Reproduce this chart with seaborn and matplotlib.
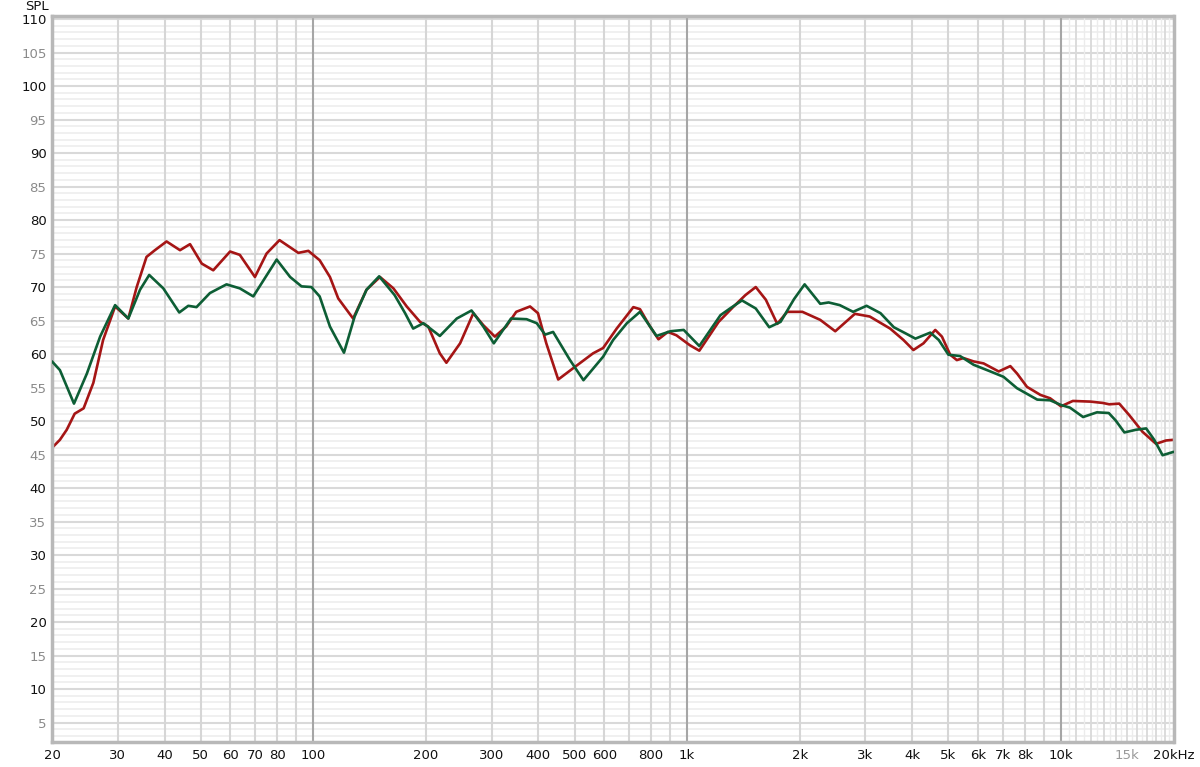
import matplotlib
matplotlib.use("Agg")
import matplotlib.pyplot as plt
from matplotlib.ticker import NullLocator
import seaborn as sns
import pandas as pd

## donnees (Hz, dB SPL)

freq_rouge = [20, 21, 21.9, 23.0, 24.3, 25.8, 27.4, 29.5, 32.0, 33.7, 35.8, 37.7, 40.5, 44.0, 46.8,
              50.3, 54.0, 59.9, 63.6, 69.8, 75, 81.2, 91.2, 97, 104, 110.8, 116.6, 127.8, 138.8,
              150.8, 163.8, 177.8, 193, 203, 218, 227, 247, 268, 285, 306, 328, 349, 380, 399, 420,
              452, 496, 560, 596, 648, 718, 748, 796, 838, 888, 936, 1018, 1078, 1214, 1332, 1432,
              1526, 1624, 1742, 1852, 2034, 2270, 2490, 2810, 3080, 3492, 3790, 4030, 4288, 4610,
              4804, 5054, 5266, 5488, 5838, 6210, 6814, 7320, 7628, 8112, 8812, 9352, 10000, 10760,
              12000, 12940, 13460, 14320, 15220, 16520, 17960, 19100, 20000]
spl_rouge = [46.0, 47.2, 48.7, 51.1, 51.9, 55.7, 62.1, 67.1, 65.3, 70.0, 74.5, 75.5, 76.8, 75.5, 76.4,
             73.5, 72.5, 75.3, 74.8, 71.5, 75.0, 77.0, 75.1, 75.4, 74.0, 71.5, 68.3, 65.3, 69.6,
             71.5, 69.8, 67.1, 64.8, 64.1, 60.1, 58.7, 61.6, 66.1, 64.3, 62.6, 64.1, 66.3, 67.1, 66.1, 61.6,
             56.2, 57.9, 60.1, 60.9, 63.8, 67.0, 66.7, 64.1, 62.2, 63.3, 62.8, 61.3, 60.5, 64.8, 67.1, 68.8,
             70.0, 68.1, 64.5, 66.3, 66.3, 65.1, 63.4, 66.0, 65.6, 63.8, 62.1, 60.6, 61.6, 63.6,
             62.6, 59.9, 59.1, 59.4, 58.9, 58.6, 57.4, 58.2, 57.1, 55.1, 53.9, 53.4, 52.2, 53.0,
             52.9, 52.7, 52.5, 52.6, 50.9, 48.4, 46.6, 47.1, 47.2]

freq_vert = [20, 21, 22.9, 24.8, 26.9, 29.5, 32, 34.4, 36.4, 39.7, 43.8, 46.3, 48.7, 52.9, 58.6, 63.6,
             69.1, 79.8, 86.7, 93, 98.8, 104, 110.8, 120.8, 129, 138.8, 150, 165, 176, 185, 197, 218,
             242, 265, 285, 304, 338, 372, 396, 417, 438, 486, 528, 596, 634, 690, 748, 828, 902, 979,
             1078, 1228, 1302, 1402, 1526, 1658, 1778, 1932, 2062, 2270, 2390, 2560, 2780, 3020, 3290,
             3572, 3836, 4080, 4472, 4710, 5000, 5372, 5838, 6476, 7020, 7628, 8640, 9352, 10000,
             10570, 11460, 12480, 13420, 14000, 14780, 15880, 16900, 17760, 18700, 20000]
spl_vert = [58.9, 57.6, 52.6, 57.1, 62.6, 67.3, 65.3, 69.6, 71.8, 69.8, 66.2, 67.2, 67.0, 69.1, 70.4, 69.8,
            68.6, 74.1, 71.5, 70.1, 70.0, 68.6, 64.1, 60.2, 65.6, 69.6, 71.6, 68.8, 66.1, 63.8, 64.6, 62.7,
            65.3, 66.5, 64.1, 61.6, 65.3, 65.2, 64.6, 62.9, 63.3, 59.1, 56.1, 59.6, 62.1, 64.6, 66.3, 62.7, 63.4, 63.6,
            61.2, 65.8, 66.8, 68.0, 66.8, 64.0, 64.8, 68.2, 70.4, 67.5, 67.7, 67.3, 66.3, 67.2, 66.1,
            64.0, 63.1, 62.3, 63.2, 62.1, 59.9, 59.7, 58.4, 57.4, 56.6, 54.9, 53.2, 53.1, 52.4,
            52.0, 50.6, 51.3, 51.2, 50.1, 48.3, 48.7, 48.9, 47.2, 44.9, 45.4]

xticks = [20, 30, 40, 50, 60, 70, 80, 100, 200, 300, 400, 500, 600, 800,
          1000, 2000, 3000, 4000, 5000, 6000, 7000, 8000, 10000, 15000, 20000]
xlabels = ["20", "30", "40", "50", "60", "70", "80", "100", "200", "300", "400", "500", "600", "800",
           "1k", "2k", "3k", "4k", "5k", "6k", "7k", "8k", "10k", "15k", "20kHz"]
yticks = list(range(5, 111, 5))

## figure

sns.set_style("white")
plt.rcParams['font.family'] = ['DejaVu Sans']

fig = plt.figure(figsize=(12, 7.67), dpi=100)
ax = fig.add_axes([52/1200, 1-742/767, (1173.5-52)/1200, (742-16)/767])
ax.set_xscale('log')
ax.set_xlim(20, 20000)
ax.set_ylim(2.1, 110.45)

# grille horizontale (1 dB, 5 dB)
for v in range(3, 111):
    if v % 5 == 0:
        ax.axhline(v, color='#d9d9d9', lw=1.5, zorder=0)
    else:
        ax.axhline(v, color='#ededed', lw=1.2, zorder=0)

# grille verticale
for d in [10, 100, 1000]:
    for m in range(2, 10):
        f = m*d
        if 20 < f < 10000:
            ax.axvline(f, color='#d6d6d6', lw=1.5, zorder=0)
for f in [100, 1000, 10000]:
    ax.axvline(f, color='#a6a6a6', lw=1.5, zorder=0)
# au dessus de 10k : traits tous les 1k, plus clairs a mi-chemin
for k in range(21, 40):
    f = k*500
    if k % 2 == 0:
        ax.axvline(f, color='#d9d9d9', lw=1.3, zorder=0)
    else:
        ax.axvline(f, color='#ececec', lw=1.0, zorder=0)

df_rouge = pd.DataFrame({"f": freq_rouge, "spl": spl_rouge})
df_vert = pd.DataFrame({"f": freq_vert, "spl": spl_vert})
sns.lineplot(data=df_vert, x="f", y="spl", ax=ax, color='#0d5e35', lw=1.9, estimator=None, zorder=3)
sns.lineplot(data=df_rouge, x="f", y="spl", ax=ax, color='#a51515', lw=1.9, estimator=None, zorder=2)

ax.set_xlabel("")
ax.set_ylabel("")
ax.set_xticks(xticks)
ax.set_xticklabels(xlabels)
ax.xaxis.set_minor_locator(NullLocator())
ax.set_yticks(yticks)
ax.set_yticklabels([str(v) for v in yticks])
ax.tick_params(axis='both', length=0, labelsize=9.5)
ax.tick_params(axis='y', pad=4)
ax.tick_params(axis='x', pad=5)

for lab in ax.get_yticklabels():
    v = int(lab.get_text())
    lab.set_color('#111111' if v % 10 == 0 else '#8a8a8a')
for lab in ax.get_xticklabels():
    lab.set_color('#9a9a9a' if lab.get_text() == "15k" else '#111111')

for s in ax.spines.values():
    s.set_color('#b8b8b8')
    s.set_linewidth(2.5)
    s.set_visible(True)

fig.text(37/1200, 1-7/767, "SPL", ha='center', va='center', fontsize=9.5, color='#111111')

plt.savefig("out.png", dpi=100)
